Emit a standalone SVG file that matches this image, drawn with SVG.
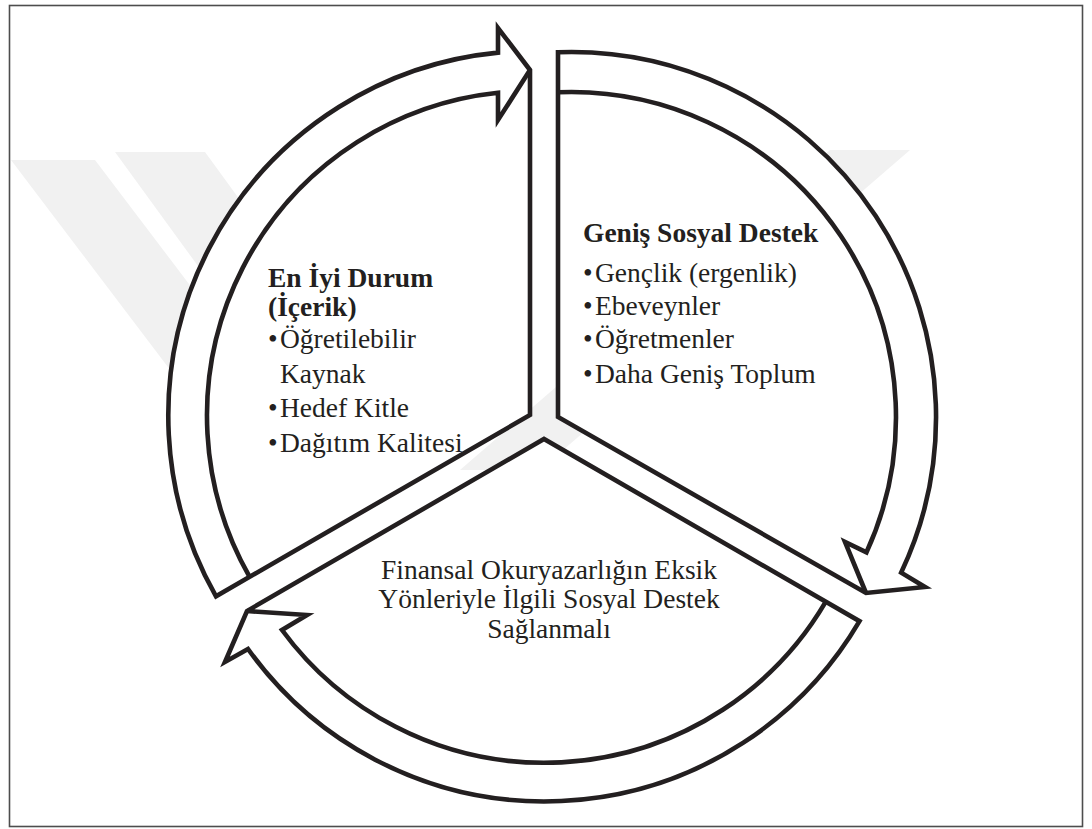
<svg xmlns="http://www.w3.org/2000/svg" width="1092" height="829" viewBox="0 0 1092 829">
  <style>
    .shape { fill: #ffffff; stroke: #231f20; stroke-width: 4.6; stroke-linejoin: miter; stroke-miterlimit: 4; }
    .line { fill: none; stroke: #231f20; stroke-width: 4.6; stroke-linejoin: miter; stroke-miterlimit: 4; }
    .t { font-family: "Liberation Serif", "Times New Roman", serif; font-size: 27.5px; fill: #231f20; }
    .b { font-weight: bold; }
    .wm { fill: #f1f1f1; }
  </style>
  <rect x="0" y="0" width="1092" height="829" fill="#ffffff"/>
  <g id="watermark">
    <polygon class="wm" points="11,160 95,160 330,470 246,470"/>
    <polygon class="wm" points="115,152 205,152 400,420 310,420"/>
    <polygon class="wm" points="830,150 910,150 540,470 460,470"/>
  </g>
  <rect x="9.5" y="5.5" width="1073" height="821" fill="none" stroke="#4d4d4d" stroke-width="1.6"/>

  <g id="connectors">
    <g id="node-left-shape">
      <path class="shape" d="M530,70 L498,28 L498,52.6 A365,365 0 0 0 216,596.3 L530,415 Z"/>
      <path class="line" d="M530,70 L498,120 L498,92.8 A325,325 0 0 0 249.6,576.9"/>
    </g>
    <g id="node-right-shape">
      <path class="shape" d="M558,52.2 A365,365 0 0 1 901.2,572.6 L925,587 L866,593 L558,417 Z"/>
      <path class="line" d="M558,92.3 A325,325 0 0 1 866.5,552.3 L845,542 L866,593"/>
    </g>
    <g id="node-bottom-shape">
      <path class="shape" d="M859.5,621.2 A365,365 0 0 1 248,649 L225,662 L247,611 L544,439 Z"/>
      <path class="line" d="M825.8,601.7 A326,326 0 0 1 282,630 L307,615 L247,611"/>
    </g>
  </g>

  <g id="node-en-iyi-durum">
    <text class="t b" x="268" y="287">En İyi Durum</text>
    <text class="t b" x="268" y="316">(İçerik)</text>
    <text class="t" x="268" y="348">•</text><text class="t" x="280" y="348">Öğretilebilir</text>
    <text class="t" x="280" y="383">Kaynak</text>
    <text class="t" x="268" y="417">•</text><text class="t" x="280" y="417">Hedef Kitle</text>
    <text class="t" x="268" y="452">•</text><text class="t" x="280" y="452">Dağıtım Kalitesi</text>
  </g>

  <g id="node-genis-sosyal-destek">
    <text class="t b" x="583" y="242">Geniş Sosyal Destek</text>
    <text class="t" x="583" y="282">•</text><text class="t" x="595" y="282">Gençlik (ergenlik)</text>
    <text class="t" x="583" y="315">•</text><text class="t" x="595" y="315">Ebeveynler</text>
    <text class="t" x="583" y="348">•</text><text class="t" x="595" y="348">Öğretmenler</text>
    <text class="t" x="583" y="383">•</text><text class="t" x="595" y="383">Daha Geniş Toplum</text>
  </g>

  <g id="node-finansal">
    <text class="t" x="549" y="579" text-anchor="middle">Finansal Okuryazarlığın Eksik</text>
    <text class="t" x="549" y="608" text-anchor="middle">Yönleriyle İlgili Sosyal Destek</text>
    <text class="t" x="549" y="638" text-anchor="middle">Sağlanmalı</text>
  </g>
</svg>
